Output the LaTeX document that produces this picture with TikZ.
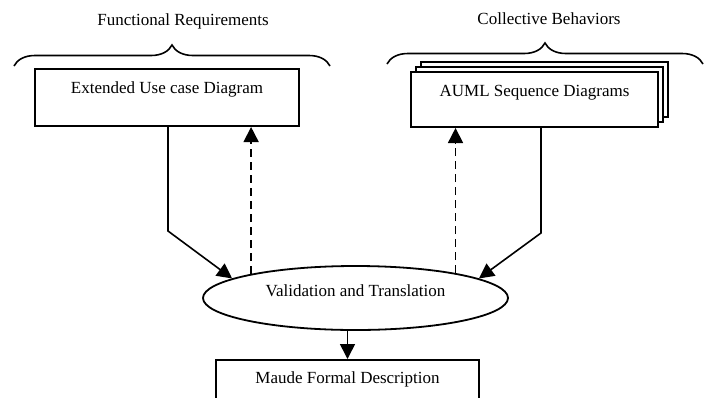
\documentclass[tikz,border=0pt]{standalone}
\usepackage{fontspec}
\setmainfont{Liberation Serif}
\usetikzlibrary{arrows.meta,shapes.geometric,decorations.pathreplacing}

\begin{document}
\begin{tikzpicture}[x=1pt,y=-1pt,
  every node/.style={font=\fontsize{17}{20}\selectfont, inner sep=0pt},
  box/.style={draw, line width=2pt, fill=white, rectangle, text height=12pt},
  oval/.style={draw, line width=1.8pt, ellipse, text height=12pt},
  flow/.style={line width=1.6pt, -{Triangle[length=15pt,width=15pt]}},
  back/.style={flow, dash pattern=on 8pt off 5pt},
  curly/.style={line width=1.6pt, decorate, decoration={brace, amplitude=21pt}},
  title/.style={anchor=base}
]
\useasboundingbox (0,0) rectangle (712,397);
\clip (0,0) rectangle (712,397);

% group titles and their braces
\node[title] (fr) at (183,25) {Functional Requirements};
\node[title] (cb) at (549,24) {Collective Behaviors};
\draw[curly] (14,66) -- (330,66);
\draw[curly] (387,64) -- (703,64);

% use case box
\node[box, minimum width=264pt, minimum height=57pt, text depth=21pt]
  (euc) at (167,97.5) {Extended Use case Diagram};

% stacked sequence diagram boxes
\node[box, minimum width=247pt, minimum height=55pt] (aus3) at (544.5,89.5) {};
\node[box, minimum width=247pt, minimum height=55pt] (aus2) at (539.5,94.5) {};
\node[box, minimum width=247pt, minimum height=55pt, text depth=19pt]
  (aus) at (534.5,99.5) {AUML Sequence Diagrams};

% central process
\node[oval, minimum width=305pt, minimum height=64pt, text depth=14.6pt]
  (vt) at (355.5,298) {Validation and Translation};

% output box
\node[box, minimum width=263pt, minimum height=40pt, text depth=5.4pt]
  (mfd) at (347.5,380) {Maude Formal Description};

% forward flows
\coordinate (lbend) at (168,231);
\coordinate (rbend) at (541,233);
\draw[flow] (euc.south -| lbend) -- (lbend) -- (vt.171);
\draw[flow] (aus.south -| rbend) -- (rbend) -- (vt.9);
\draw[flow] (vt.south -| mfd.north) -- (mfd.north);

% feedback flows
\draw[back] (vt.167) -- (vt.167 |- euc.south);
\draw[back] (vt.14) -- (vt.14 |- aus.south);
\end{tikzpicture}
\end{document}
